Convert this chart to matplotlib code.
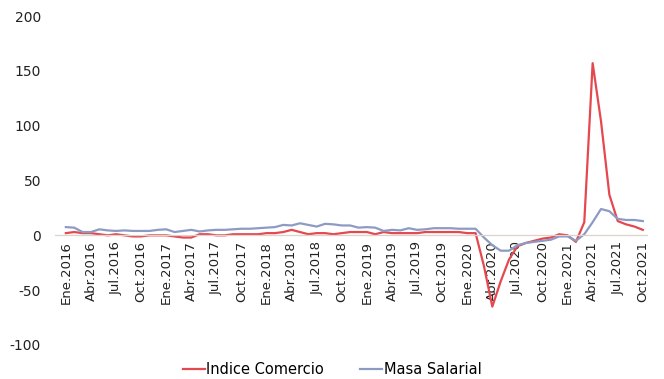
import matplotlib
matplotlib.use("Agg")
import matplotlib.pyplot as plt
import numpy as np

plt.rcParams['font.family'] = ['DejaVu Sans']
plt.rcParams['axes.unicode_minus'] = False

meses = ["Ene", "Feb", "Mar", "Abr", "May", "Jun", "Jul", "Ago", "Sep", "Oct", "Nov", "Dic"]
fechas = [m + "." + str(a) for a in range(2016, 2022) for m in meses][:70]

indice_comercio = [
    2, 3, 2, 2, 1, 0, 1, 0, -1, -1, 0, 0,
    0, -1, -2, -2, 1, 1, 0, 0, 1, 1, 1, 1,
    2, 2, 3, 5, 3, 1, 2, 2, 1, 2, 3, 3,
    3, 1, 3, 2, 2, 2, 2, 3, 3, 3, 3, 3,
    2, 2, -28, -65, -42, -22, -10, -7, -5, -3, -2, 1,
    0, -6, 12, 157, 104, 37, 13, 10, 8, 5,
]
masa_salarial = [
    7.5, 7, 3, 3, 5.5, 4.5, 4, 4.5, 4, 4, 4, 5,
    5.5, 3, 4, 5, 3.5, 4.5, 5, 5, 5.5, 6, 6, 6.5,
    7, 7.5, 9.5, 9, 11, 9.5, 8, 10.5, 10, 9, 9, 7,
    7.5, 7, 4, 5, 4.5, 6.5, 5, 5.5, 6.5, 6.5, 6.5, 6,
    6, 6, -2, -9, -14, -14, -9, -7, -6, -5, -4, -1,
    -1, -5, 1, 12, 24, 22, 15, 14, 14, 13,
]

x = np.arange(len(fechas))

fig = plt.figure(figsize=(6.64, 3.79), dpi=100)
ax = fig.add_axes([55/664, 1-345/379, (647-55)/664, (345-16)/379])

ax.plot(x, indice_comercio, color='#e5484f', lw=1.6, label='Indice Comercio')
ax.plot(x, masa_salarial, color='#8d9bc4', lw=1.6, label='Masa Salarial')

ax.set_xlim(-1.3, 69.5)
ax.set_ylim(-100, 200)
ax.set_yticks(np.arange(-100, 201, 50))

for s in ['top', 'right', 'left']:
    ax.spines[s].set_visible(False)
ax.spines['bottom'].set_position(('data', 0))
ax.spines['bottom'].set_color('#dcd3cc')
ax.spines['bottom'].set_linewidth(0.9)

ax.set_xticks(x[::3])
ax.set_xticklabels(fechas[::3], rotation=90, fontsize=9.5, color='#222222')
ax.tick_params(axis='x', length=0, pad=4)
ax.tick_params(axis='y', length=0, pad=10, labelsize=10, labelcolor='#222222')

fig.legend(loc='lower center', bbox_to_anchor=(0.5, -0.03), ncol=2, frameon=False,
           fontsize=10.5, handlelength=1.5, handletextpad=0.1, columnspacing=2.5)

fig.savefig('out.png', dpi=100)
